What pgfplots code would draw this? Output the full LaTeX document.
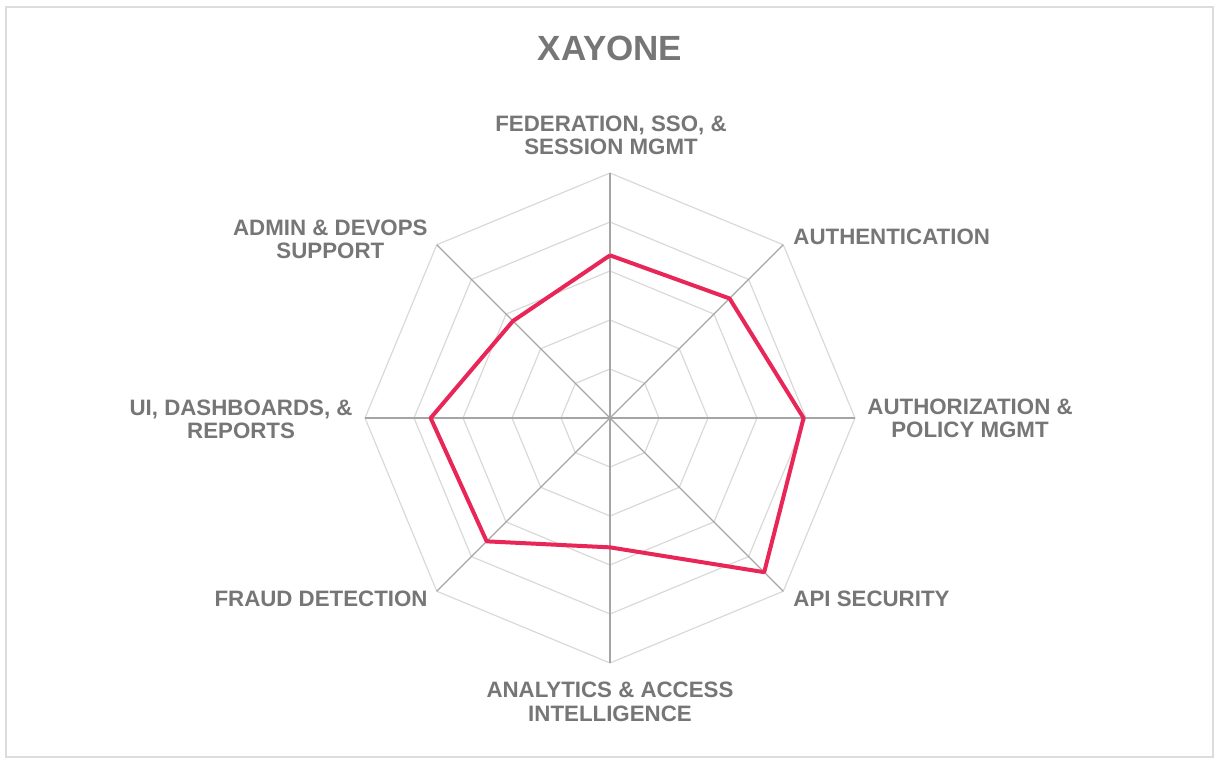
\documentclass[border=0pt]{standalone}
\usepackage{fontspec}
\setmainfont{Liberation Sans}
\usepackage{pgfplots}
\pgfplotsset{compat=1.18}

\definecolor{txtgray}{RGB}{118,118,118}
\definecolor{ringgray}{RGB}{217,217,217}
\definecolor{spokegray}{RGB}{165,165,165}
\definecolor{scorered}{RGB}{232,38,88}
\definecolor{framegray}{RGB}{220,220,220}

\tikzset{lab/.style={font=\fontsize{11.15}{11.65}\selectfont\bfseries,
  text=txtgray, align=center, inner sep=0pt}}

\begin{document}
\begin{tikzpicture}
\begin{axis}[
  scale only axis,
  width=610.5pt, height=380.5pt,
  xmin=-12.449, xmax=12.469,
  ymin=-7.0, ymax=8.531,
  hide axis,
  clip=false,
]
% picture area and frame
\path (rel axis cs:0,0) rectangle (rel axis cs:1,1);
\draw[framegray, line width=0.8pt] (axis cs:-12.327,-6.918) rectangle (axis cs:12.306,8.388);

% octagonal grid rings
\pgfplotsinvokeforeach{1,2,3,4,5}{
  \addplot[ringgray, line width=0.6pt, data cs=polar, mark=none] coordinates {
    (90,#1) (45,#1) (0,#1) (-45,#1) (-90,#1) (-135,#1) (180,#1) (135,#1) (90,#1)
  };
}

% spokes
\addplot[spokegray, line width=0.6pt, data cs=polar, mark=none] coordinates {(90,5) (270,5)};
\addplot[spokegray, line width=0.6pt, data cs=polar, mark=none] coordinates {(45,5) (225,5)};
\addplot[spokegray, line width=0.6pt, data cs=polar, mark=none] coordinates {(0,5) (180,5)};
\addplot[spokegray, line width=0.6pt, data cs=polar, mark=none] coordinates {(135,5) (315,5)};

% scores
\addplot[scorered, line width=2pt, line join=round, data cs=polar, mark=none] coordinates {
  (90,3.32)   % Federation, SSO & Session Mgmt
  (45,3.45)   % Authentication
  (0,3.95)    % Authorization & Policy Mgmt
  (-45,4.45)  % API Security
  (-90,2.64)  % Analytics & Access Intelligence
  (-135,3.56) % Fraud Detection
  (180,3.66)  % UI, Dashboards & Reports
  (135,2.80)  % Admin & DevOps Support
  (90,3.32)
};

% title and category labels
\node[font=\fontsize{17.5}{20}\selectfont\bfseries, text=txtgray, inner sep=0pt]
  at (axis cs:0,7.551) {XAYONE};
\node[lab] at (axis cs:0.02,5.776) {FEDERATION, SSO, \&\\SESSION MGMT};
\node[lab, anchor=west] at (axis cs:3.735,3.694) {AUTHENTICATION};
\node[lab, anchor=west] at (axis cs:5.245,0) {AUTHORIZATION \&\\POLICY MGMT};
\node[lab, anchor=west] at (axis cs:3.735,-3.70) {API SECURITY};
\node[lab] at (axis cs:0,-5.79) {ANALYTICS \& ACCESS\\INTELLIGENCE};
\node[lab, anchor=east] at (axis cs:-3.714,-3.70) {FRAUD DETECTION};
\node[lab, anchor=east] at (axis cs:-5.245,-0.03) {UI, DASHBOARDS, \&\\REPORTS};
\node[lab, anchor=east] at (axis cs:-3.714,3.653) {ADMIN \& DEVOPS\\SUPPORT};
\end{axis}
\end{tikzpicture}
\end{document}
